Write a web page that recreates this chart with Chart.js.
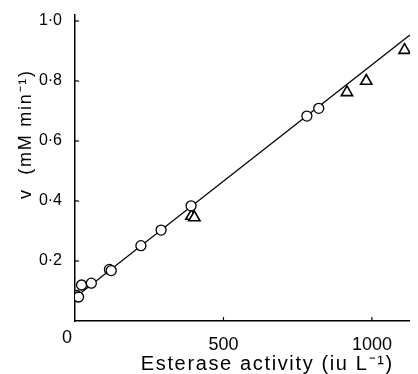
<!DOCTYPE html>
<html>
<head>
<meta charset="utf-8">
<script src="https://cdn.jsdelivr.net/npm/chart.js@4.4.0/dist/chart.umd.min.js"></script>
<style>
body { margin: 0; background: #fff; }
#wrap { width: 418px; height: 374px; }
</style>
</head>
<body>
<div id="wrap"><canvas id="esteraseChart" width="418" height="374"></canvas></div>
<script>
// circles (open)
var circleX = [5, 12, 22, 55, 116, 122, 222, 290, 391, 781, 821];
var circleY = [0.085, 0.08, 0.12, 0.126, 0.172, 0.168, 0.251, 0.303, 0.384, 0.683, 0.709];
// triangles (open)
var triX = [392, 402, 916, 981, 1110];
var triY = [0.35, 0.345, 0.762, 0.80, 0.903];
// fitted line end points
var lineX = [0, 1128];
var lineY = [0.078, 0.953];

var xTicks = [500, 1000];
var yTicks = [0.2, 0.4, 0.6, 0.8, 1.0];
var xTitle = 'Esterase activity (iu L\u207B\u00B9)';
var yTitle = 'v  (mM min\u207B\u00B9)';

var fontFam = '"Liberation Sans", Arial, sans-serif';

function toPts(xs, ys) {
	return xs.map((x, i) => ({x: x, y: ys[i]}));
}

// spread the letters so the text fills the wanted width
function wideText(c, txt, x, y, w) {
	c.letterSpacing = '0px';
	var n = txt.length;
	var sp = (w - c.measureText(txt).width) / n;
	c.letterSpacing = sp.toFixed(2) + 'px';
	c.fillText(txt, x + sp / 2, y);
}

// titles, the shared origin "0" and short inward tick marks
var extras = {
	id: 'extras',
	afterDraw(chart) {
		var c = chart.ctx;
		var xs = chart.scales.x, ys = chart.scales.y;
		var a = chart.chartArea;
		c.save();
		c.strokeStyle = '#000';
		c.lineWidth = 1.2;
		xTicks.forEach((v) => {
			var px = xs.getPixelForValue(v);
			c.beginPath(); c.moveTo(px, a.bottom); c.lineTo(px, a.bottom - 4); c.stroke();
		});
		yTicks.forEach((v) => {
			var py = ys.getPixelForValue(v);
			c.beginPath(); c.moveTo(a.left, py); c.lineTo(a.left + 4, py); c.stroke();
		});
		c.fillStyle = '#000';
		c.textAlign = 'center';
		c.textBaseline = 'middle';
		c.font = '18px ' + fontFam;
		c.fillText('0', 67, 338);
		c.textBaseline = 'alphabetic';
		c.font = '20px ' + fontFam;
		wideText(c, xTitle, 266.5, 370, 253);
		c.translate(31, 135);
		c.rotate(-Math.PI / 2);
		c.font = '18px ' + fontFam;
		wideText(c, yTitle, 0, 0, 130);
		c.restore();
	}
};

var ctx = document.getElementById('esteraseChart').getContext('2d');
var chart = new Chart(ctx, {
	type: 'scatter',
	data: {
		datasets: [{
			label: 'fit',
			type: 'line',
			data: toPts(lineX, lineY),
			borderColor: '#000',
			borderWidth: 1.3,
			pointRadius: 0,
			fill: false,
			order: 2
		}, {
			label: 'circles',
			data: toPts(circleX, circleY),
			pointStyle: 'circle',
			pointRadius: 5,
			borderColor: '#000',
			backgroundColor: '#fff',
			borderWidth: 1.3,
			order: 1
		}, {
			label: 'triangles',
			data: toPts(triX, triY),
			pointStyle: 'triangle',
			pointRadius: 6.5,
			borderColor: '#000',
			backgroundColor: '#fff',
			borderWidth: 1.6,
			order: 1
		}]
	},
	options: {
		responsive: false,
		animation: false,
		layout: {padding: {top: 15, right: 0, left: 0, bottom: 0}},
		plugins: {legend: {display: false}, tooltip: {enabled: false}},
		scales: {
			x: {
				type: 'linear',
				min: 0,
				max: 1128,
				afterBuildTicks: (s) => { s.ticks = xTicks.map((v) => ({value: v})); },
				afterFit: (s) => { s.height = 53; },
				grid: {display: false},
				border: {display: true, color: '#000', width: 1.5},
				ticks: {
					color: '#000',
					font: {family: fontFam, size: 18},
					padding: 5,
					maxRotation: 0,
					callback: (v) => String(v)
				}
			},
			y: {
				type: 'linear',
				min: 0,
				max: 1.02,
				afterBuildTicks: (s) => { s.ticks = yTicks.map((v) => ({value: v})); },
				afterFit: (s) => { s.width = 75; },
				grid: {display: false},
				border: {display: true, color: '#000', width: 1.5},
				ticks: {
					color: '#000',
					font: {family: fontFam, size: 16},
					padding: 5,
					callback: (v) => v.toFixed(1).replace('.', '\u00B7')
				}
			}
		}
	},
	plugins: [extras]
});
</script>
</body>
</html>
